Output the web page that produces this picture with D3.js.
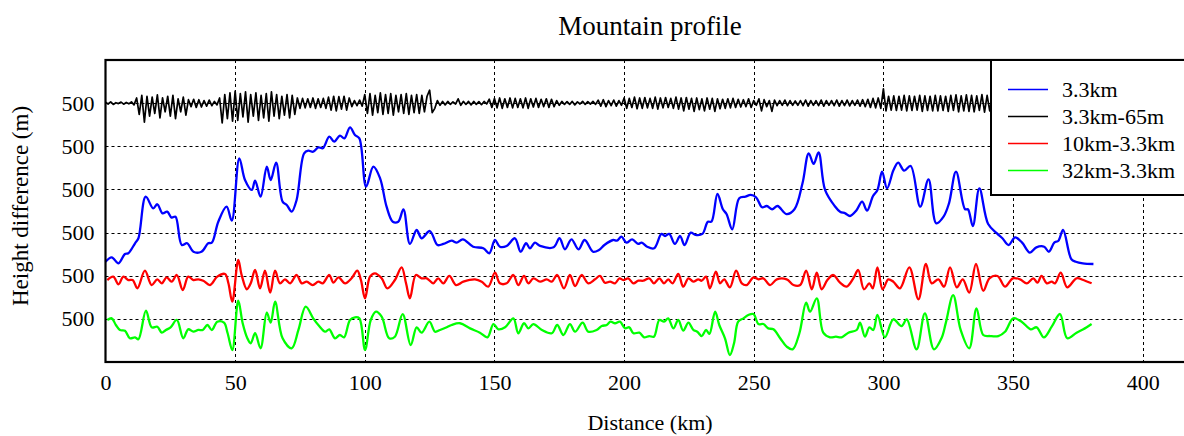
<!DOCTYPE html>
<html>
<head>
<script src="https://cdn.jsdelivr.net/npm/d3@7"></script>
<style>
  body { margin: 0; background: #fff; }
  text { font-family: "Liberation Serif", "Times New Roman", serif; fill: #000; }
  .grid line { stroke: #000; stroke-width: 1; stroke-dasharray: 3,3; }
</style>
</head>
<body>
<script>
// series values, [distance km, height m]
var blue3km = [[0,1162],[2.4,1213],[5,1144],[7.5,1252],[8.8,1260],[11.4,1376],[12.7,1434],[15.5,1916],[18.4,1781],[20,1828],[22,1723],[23.8,1742],[25.5,1673],[27,1684],[29.4,1356],[31.5,1376],[33.9,1278],[37,1278],[39.6,1376],[41,1383],[43.5,1626],[46.7,1800],[48.7,1638],[51.6,2361],[53.8,2109],[56.4,1994],[57.7,2101],[59.8,1916],[62.2,2264],[63.7,2109],[65.8,2310],[68.3,1858],[69.9,1820],[71.8,1742],[73.7,1878],[76.6,2419],[78.2,2449],[80.1,2437],[82.1,2488],[83.8,2477],[86.3,2611],[88.2,2553],[90.4,2623],[92.1,2592],[94.3,2720],[96.2,2631],[97.9,2592],[100.5,2032],[103.3,2264],[105.9,2129],[108.4,1800],[110.8,1626],[112.9,1626],[114.9,1770],[117.4,1368],[120,1530],[121.9,1434],[125.1,1518],[128,1356],[130.3,1368],[133.5,1406],[135.4,1383],[137.8,1422],[141.8,1336],[145.7,1318],[148,1260],[150.2,1414],[152.1,1336],[154.7,1345],[157.9,1434],[160.1,1278],[162.2,1376],[163.7,1318],[165.6,1383],[167.6,1345],[172.8,1329],[175.1,1434],[177.2,1306],[179.7,1422],[182.4,1306],[184.8,1414],[188,1278],[190.3,1298],[192.4,1356],[195.8,1414],[197.2,1406],[199,1452],[200.9,1383],[203.1,1422],[205.4,1368],[206.8,1383],[208.9,1336],[211.6,1318],[214.4,1484],[215.8,1460],[217.4,1484],[219.6,1368],[221.6,1460],[223.3,1356],[225.7,1499],[227.5,1472],[230.2,1484],[232.3,1626],[233.7,1626],[236,1947],[238.1,1770],[239.5,1715],[241.7,1538],[244.4,1897],[246.8,1916],[248.8,1936],[250.9,1909],[253.2,1793],[255,1808],[257.1,1770],[259.2,1808],[262.6,1715],[265.7,1770],[268.8,2071],[271.2,2419],[273.1,2295],[275,2430],[277.5,1994],[281.2,1808],[283.3,1742],[285.3,1723],[287.1,1692],[289.5,1754],[291.8,1858],[293.7,1754],[296,1924],[297.7,1994],[299.5,2206],[301.4,2013],[303.9,2225],[305.7,2310],[308,2218],[310.5,2272],[314.2,1800],[317.4,2117],[320.4,1607],[323.2,1684],[325.3,1839],[328,2206],[331.5,1770],[332.6,1770],[334.5,1576],[337,2013],[340.4,1599],[343.8,1491],[345.9,1434],[348.3,1356],[350.8,1445],[353.5,1383],[356.5,1267],[359,1329],[362,1336],[363.8,1278],[365.9,1383],[367.5,1406],[369.3,1530],[372.5,1190],[374.2,1162],[376.9,1144],[381,1136]];

var red10km = [[0.7,950],[3,989],[5,900],[6.9,989],[8.8,950],[10.5,950],[12.3,854],[15.2,1058],[17.8,892],[20,958],[21.7,912],[23.6,981],[25.5,931],[27.5,1008],[29.8,834],[31.9,989],[33.9,950],[35.8,958],[37.7,942],[40.3,892],[43.1,989],[46.1,1020],[47.4,912],[48.9,699],[51.2,1182],[52.5,1008],[54.5,843],[56,912],[57.7,1066],[59.6,854],[61.5,1058],[63.5,803],[65.4,1058],[67.3,912],[69.2,958],[71.2,912],[73.7,1008],[75.7,912],[77.6,931],[79.9,892],[82.1,931],[83.8,912],[86.3,1008],[87.9,919],[89.8,981],[92.4,912],[94.9,970],[97.1,1058],[98.5,950],[100.1,738],[102,989],[103.9,1028],[106.5,970],[108.7,854],[111.6,950],[114.2,1097],[115.9,912],[117.4,738],[119.7,1008],[121.9,970],[123.9,970],[126.4,912],[128.3,970],[130.3,912],[132.6,997],[135.2,892],[138,931],[142.5,958],[145.1,931],[147.6,873],[150.2,1035],[152.1,912],[154.7,912],[157.3,1008],[159.2,892],[161.4,997],[163.1,912],[165,970],[167.6,931],[170.2,958],[172.1,931],[174.2,1008],[176.8,854],[179.1,1008],[181.1,881],[183.6,1008],[186.2,912],[188.8,958],[190.7,997],[192.6,919],[194.6,931],[196.5,912],[198.2,970],[199.7,950],[201.6,970],[203.6,912],[205.5,942],[207.4,942],[209.7,970],[211.5,912],[213.6,970],[215.4,912],[217,958],[218.7,912],[220.9,1020],[222.8,873],[224.8,970],[226.7,931],[228.6,958],[229.9,942],[231.6,989],[233.1,854],[235.4,1047],[237,912],[238.6,958],[240.8,866],[243.2,1058],[245.4,912],[247.3,892],[249.9,981],[251.8,958],[253.7,970],[256.3,892],[258.9,958],[262.7,958],[265.3,892],[267.9,892],[270.2,1058],[272.4,843],[274.3,1035],[276.2,843],[278.4,950],[280.7,1008],[283.3,919],[285.8,873],[288.4,970],[290.3,1066],[292.5,843],[294.6,912],[295.9,854],[297.7,1097],[299.7,843],[301.9,958],[303.8,931],[306.4,854],[310,1097],[313.5,727],[316.4,1136],[318.6,912],[321.2,958],[323.4,873],[325.7,1097],[328.3,866],[330.6,958],[333.1,803],[335.7,1136],[338.5,826],[340.9,970],[344,997],[346.9,873],[349.9,970],[352.7,958],[355.3,912],[357.8,970],[359.4,919],[361,997],[363,912],[364.9,931],[366.2,912],[368.4,1035],[370.9,866],[374.5,970],[377.1,950],[380.3,912]];

var green32km = [[0.7,487],[2.4,506],[4,429],[5.6,371],[7.5,363],[9.4,275],[11.4,286],[12.7,263],[15.6,595],[17.8,402],[20,409],[21.7,340],[23.3,371],[25.1,402],[27.5,487],[30,275],[31.9,379],[33.9,351],[35.8,371],[37.5,371],[39.3,429],[41,371],[43.1,467],[45.7,456],[47.1,333],[48.9,139],[51.2,711],[52.9,449],[54.7,275],[56,217],[57.7,333],[59.8,159],[62.2,572],[63.7,456],[65.4,699],[68.3,275],[71.8,159],[74.4,371],[77.2,641],[80.1,506],[82.4,417],[84.7,351],[86.3,379],[88.5,275],[90.4,313],[92,286],[94.3,487],[96.2,518],[97.9,506],[100.1,139],[102.3,487],[104.3,583],[106.5,525],[109.4,275],[111.6,293],[114.6,556],[117.7,197],[120,402],[121.9,340],[124.9,467],[127.1,351],[129,371],[131.6,402],[133.5,429],[136.7,449],[140.6,390],[144.4,340],[147.3,286],[149.6,440],[151.5,379],[154.1,402],[157.3,506],[159.2,333],[161.4,449],[163.1,390],[165,440],[168.3,371],[172.1,333],[174.2,429],[176.6,313],[179.1,440],[181.1,351],[184,456],[186.2,351],[189.4,371],[191.4,417],[193.3,429],[194.8,467],[196.5,449],[198.4,467],[200.4,390],[202,402],[203.6,333],[205.9,340],[207.7,286],[209.7,301],[211.5,293],[213.6,487],[215.4,467],[217,506],[219,390],[220.9,487],[222.8,363],[224.8,456],[226.7,371],[228.2,351],[229.9,301],[231.6,371],[232.9,325],[235.1,583],[236.7,429],[238.9,275],[240.8,81],[242.4,217],[244,467],[246,506],[247.9,545],[249.9,556],[251.8,440],[253.7,440],[255.6,390],[257.6,379],[260.2,275],[262.7,178],[265,147],[267.6,333],[270.2,687],[271.7,583],[274.3,738],[276.8,340],[279.4,286],[281.7,293],[283.9,286],[286.5,340],[289.7,371],[291,456],[292.9,293],[294.6,402],[296.1,371],[297.7,545],[300.6,286],[303.8,495],[307,417],[309,495],[312.8,147],[316,564],[319.5,147],[322.4,275],[324.1,456],[326.9,776],[329.8,371],[333.1,159],[335.9,622],[338.5,313],[341.1,301],[344.3,301],[346.9,351],[350.1,506],[353.3,467],[356.8,379],[359.1,402],[361.9,286],[364.9,409],[368.1,556],[370.9,275],[374.5,340],[377.1,379],[380.3,440]];

// 3.3km-65m, one value per km starting at 0
var black65m = [3010,2990,3015,2985,3005,2995,3012,2988,3008,2992,
  3015,2980,3060,2870,3090,2780,3080,2850,3070,2880,
  3095,2830,3060,2900,3080,2850,3090,2820,3050,2900,
  3070,2860,3040,2960,3045,2950,3040,2955,3030,2965,
  3035,2970,3020,2980,3060,2770,3100,2820,3120,2790,
  3140,2800,3110,2840,3130,2780,3100,2850,3120,2800,
  3090,2830,3110,2790,3130,2850,3100,2820,3080,2860,
  3100,2830,3090,2870,3060,2940,3055,2945,3050,2950,
  3060,2940,3050,2950,3055,2940,3070,2920,3080,2910,
  3075,2930,3080,2920,3060,2960,3030,2970,3035,2965,
  3100,2880,3110,2860,3090,2890,3120,2870,3100,2880,
  3110,2860,3090,2900,3100,2880,3110,2870,3090,2890,
  3100,2880,3090,2900,3080,3150,2890,2940,3030,2975,
  3020,2980,3020,2985,3015,2990,3050,2975,3020,2985,
  3020,2980,3020,2985,3018,2982,3020,2990,3045,2950,
  3055,2945,3060,2940,3050,2950,3060,2945,3055,2950,
  3050,2945,3060,2940,3050,2955,3055,2950,3045,2960,
  3050,2950,3045,2960,3030,2975,3020,2985,3018,2985,
  3020,2980,3015,2990,3020,2985,3018,2988,3020,2985,
  3035,2965,3040,2960,3030,2970,3035,2965,3030,2975,
  3060,2940,3055,2950,3070,2935,3060,2940,3065,2945,
  3055,2940,3070,2930,3060,2945,3065,2950,3055,2940,
  3070,2930,3060,2910,3065,2930,3055,2905,3060,2925,
  3050,2910,3060,2930,3055,2905,3050,2935,3045,2940,
  3050,2945,3055,2950,3045,2955,3040,2960,3050,2950,
  3030,2975,3050,2910,3040,2960,3030,2905,3035,2970,
  3030,2975,3035,2970,3030,2975,3025,2975,3030,2970,
  3035,2965,3030,2975,3028,2970,3035,2965,3030,2975,
  3030,2970,3035,2965,3030,2972,3035,2968,3030,2975,
  3035,2965,3040,2960,3045,2950,3055,2945,3060,2940,
  3165,2910,3080,2920,3085,2915,3080,2920,3090,2910,
  3085,2915,3080,2920,3090,2905,3085,2915,3080,2910,
  3090,2910,3085,2915,3080,2905,3090,2915,3095,2900,
  3085,2910,3095,2905,3090,2900,3085,2915,3100,2895,
  3090,2910,3080,2920,3085,2915,3080,2925,3075,2930,
  3080,2920,3075,2930,3080,2925,3070,2935,3075,2930,
  3070,2935,3075,2930,3065,2940,3070,2935,3065,2940,
  3060,2945,3065,2940,3060,2950,3055,2945,3060,2950,
  3050,2960,3040];

var xTicks = [0, 50, 100, 150, 200, 250, 300, 350, 400];
var yTicks = [500, 1000, 1500, 2000, 2500, 3000];
var yTickLabels = ["500", "500", "500", "500", "500", "500"];
var legendNames = ["3.3km", "3.3km-65m", "10km-3.3km", "32km-3.3km"];
var legendColors = ["#0000ff", "#000000", "#ff0000", "#00ff00"];

var width = 1184, height = 436;
var plotLeft = 105.5, plotTop = 60, plotBottom = 362;

var x = d3.scaleLinear().domain([0, 420]).range([plotLeft, plotLeft + 420 * 2.593]);
var y = d3.scaleLinear().domain([0, 3500]).range([plotBottom, plotTop]);

var svg = d3.select("body").append("svg")
  .attr("width", width)
  .attr("height", height);

var plotRight = x(420);

// grid
var grid = svg.append("g").attr("class", "grid");
grid.selectAll("line.v")
  .data(xTicks.slice(1))
  .enter().append("line")
  .attr("class", "v")
  .attr("x1", function(d) { return Math.round(x(d)) + 0.5; })
  .attr("x2", function(d) { return Math.round(x(d)) + 0.5; })
  .attr("y1", plotTop).attr("y2", plotBottom);
grid.selectAll("line.h")
  .data(yTicks)
  .enter().append("line")
  .attr("class", "h")
  .attr("x1", plotLeft).attr("x2", plotRight)
  .attr("y1", function(d) { return Math.round(y(d)) + 0.5; })
  .attr("y2", function(d) { return Math.round(y(d)) + 0.5; });

var smooth = d3.line()
  .x(function(d) { return x(d[0]); })
  .y(function(d) { return y(d[1]); })
  .curve(d3.curveCatmullRom.alpha(0.5));

var jag = d3.line()
  .x(function(d, i) { return x(i); })
  .y(function(d) { return y(d); });

svg.append("path").datum(black65m)
  .attr("d", jag).attr("fill", "none")
  .attr("stroke", "#000").attr("stroke-width", 1.7).attr("stroke-linejoin", "round");

svg.append("path").datum(blue3km)
  .attr("d", smooth).attr("fill", "none")
  .attr("stroke", "#0000ff").attr("stroke-width", 2.3);

svg.append("path").datum(red10km)
  .attr("d", smooth).attr("fill", "none")
  .attr("stroke", "#ff0000").attr("stroke-width", 2.3);

svg.append("path").datum(green32km)
  .attr("d", smooth).attr("fill", "none")
  .attr("stroke", "#00ff00").attr("stroke-width", 2.3);

// frame
svg.append("rect")
  .attr("x", plotLeft).attr("y", plotTop)
  .attr("width", plotRight - plotLeft).attr("height", plotBottom - plotTop)
  .attr("fill", "none").attr("stroke", "#000").attr("stroke-width", 2.2);

// axes
var yAxis = d3.axisLeft(y).tickValues(yTicks)
  .tickFormat(function(d, i) { return yTickLabels[i]; })
  .tickSize(0).tickPadding(11);
var ya = svg.append("g").attr("transform", "translate(" + plotLeft + ",0)").call(yAxis);
ya.select(".domain").remove();
ya.attr("font-family", null).attr("font-size", null);
ya.selectAll("text").style("font-size", "22px");

var xAxis = d3.axisBottom(x).tickValues(xTicks).tickSize(0).tickPadding(12);
var xa = svg.append("g").attr("transform", "translate(0," + plotBottom + ")").call(xAxis);
xa.select(".domain").remove();
xa.attr("font-family", null).attr("font-size", null);
xa.selectAll("text").style("font-size", "22px");

// titles
svg.append("text").attr("x", 650).attr("y", 35).attr("text-anchor", "middle")
  .style("font-size", "27px").text("Mountain profile");
svg.append("text").attr("x", 650).attr("y", 430).attr("text-anchor", "middle")
  .style("font-size", "22px").text("Distance (km)");
svg.append("text").attr("transform", "translate(28,206) rotate(-90)")
  .attr("text-anchor", "middle").style("font-size", "23px").text("Height difference (m)");

// legend
var lg = svg.append("g");
lg.append("rect").attr("x", 991).attr("y", 60).attr("width", 220).attr("height", 135)
  .attr("fill", "#fff").attr("stroke", "#000").attr("stroke-width", 2);
var items = lg.selectAll("g.item").data(legendNames)
  .enter().append("g")
  .attr("transform", function(d, i) { return "translate(0," + (89.5 + i * 27) + ")"; });
items.append("line").attr("x1", 1008).attr("x2", 1048)
  .attr("stroke", function(d, i) { return legendColors[i]; }).attr("stroke-width", 1.5);
items.append("text").attr("x", 1062).attr("dy", "0.33em")
  .style("font-size", "22px").text(function(d) { return d; });
</script>
</body>
</html>
